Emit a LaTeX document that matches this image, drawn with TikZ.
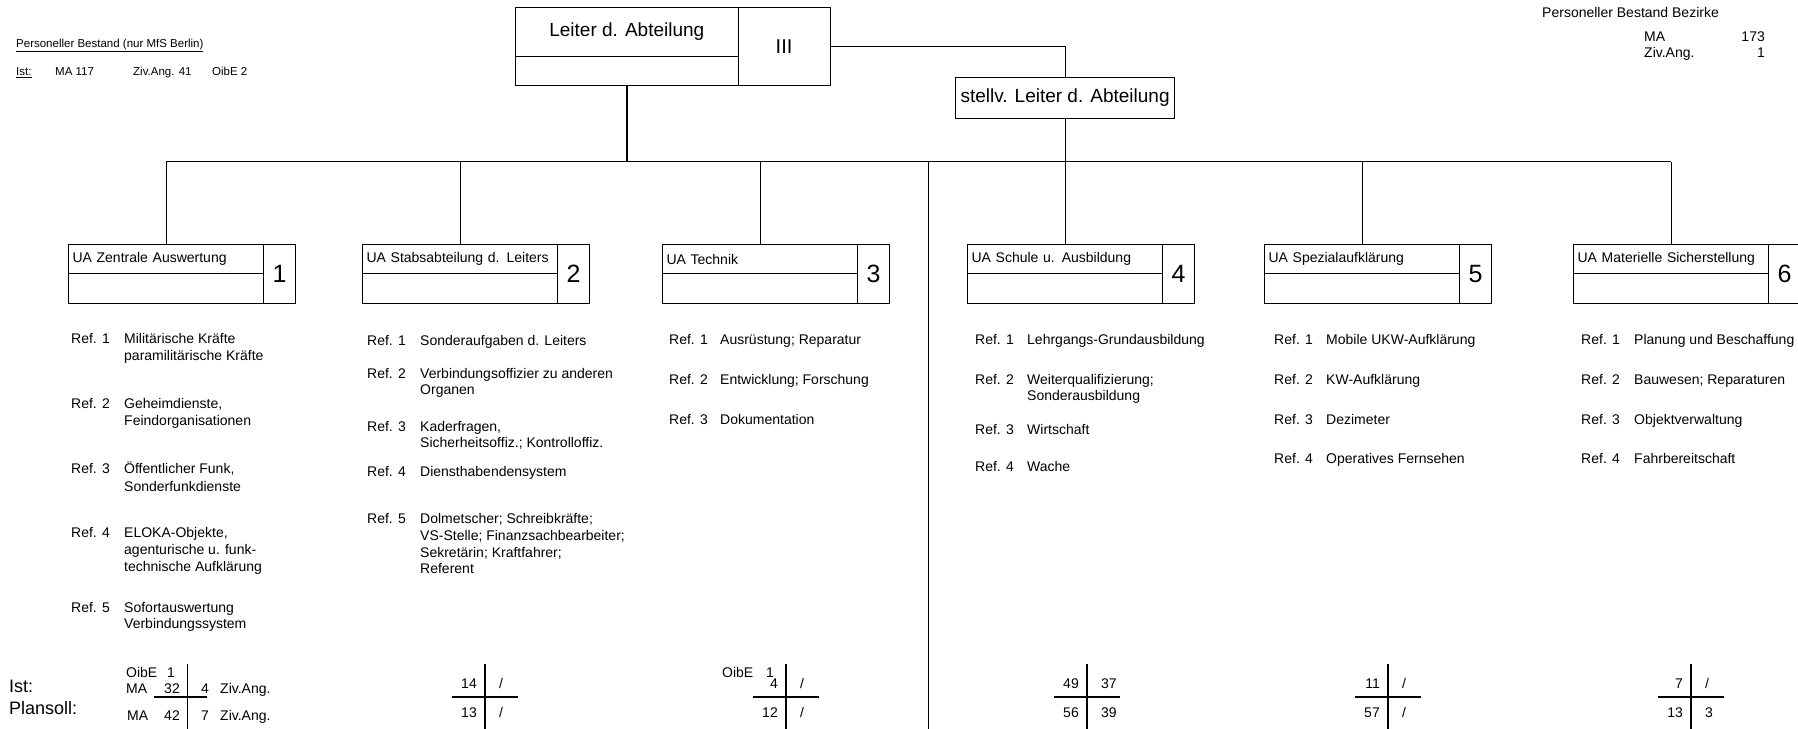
\documentclass[tikz,border=0pt]{standalone}
\usepackage{fontspec}
\setmainfont{Liberation Sans}
\usetikzlibrary{calc}
\newcommand\fsRef{\fontsize{14}{16}\selectfont}
\newcommand\fsHead{\fontsize{19}{22}\selectfont}
\newcommand\fsSmall{\fontsize{11.5}{13}\selectfont}
\begin{document}
\begin{tikzpicture}[x=1pt,y=-1pt,
  every node/.style={inner sep=0pt},
  ln/.style={line width=1.1pt},
  box/.style={draw, line width=1.1pt, anchor=north west, inner sep=0pt},
  uahead/.style={box, minimum width=195pt, minimum height=29pt, text width=187pt,
    inner xsep=4pt, align=left, font=\fsRef},
  ualow/.style={box, minimum width=195pt, minimum height=30pt},
  uanum/.style={box, minimum width=32pt, minimum height=59pt, font=\fontsize{25}{28}\selectfont},
  ref/.style={anchor=mid west, font=\fsRef, yshift=-3pt},
  lcell/.style={anchor=mid east, font=\fsRef, yshift=-2pt},
  rcell/.style={anchor=mid west, font=\fsRef, yshift=-2pt},
  small/.style={anchor=mid west, font=\fsSmall},
  big/.style={anchor=mid west, font=\fontsize{18}{20}\selectfont, yshift=-2pt},
]
\useasboundingbox (0,0) rectangle (1798,728);
\clip (0,0) rectangle (1798,728);

% head of the department
\node[box, minimum width=222.5pt, minimum height=49pt, font=\fsHead] (leiter) at (515,7) {Leiter d. Abteilung};
\node[box, minimum width=222.5pt, minimum height=29pt] (leiterlow) at (515,56) {};
\node[box, minimum width=92pt, minimum height=78pt, font=\fontsize{20}{22}\selectfont] (roman) at (737.5,7) {III};
\node[box, minimum width=219pt, minimum height=41pt, font=\fsHead] (stellv) at (955,77) {stellv. Leiter d. Abteilung};

% sub-departments
\foreach \i/\L/\t in {1/68/UA Zentrale Auswertung, 2/362/UA Stabsabteilung d. Leiters,
    3/662/UA Technik, 4/967/UA Schule u. Ausbildung, 5/1264/UA Spezialaufklärung,
    6/1573/UA Materielle Sicherstellung}{
  \node[uahead] (ua\i) at (\L,244) {\t};
  \node[ualow] (ua\i low) at (\L,273) {};
  \node[uanum] (num\i) at (\L+195,244) {\i};
}

% connectors
\coordinate (bus) at (0,161.5);
\draw[ln] (ua1.north |- bus) -- (ua6.north |- bus);
\foreach \i in {1,...,6} \draw[ln] (ua\i.north) -- (ua\i.north |- bus);
\draw[line width=2.4pt] (leiterlow.south) -- (leiterlow.south |- bus);
\draw[ln] (roman.east) -| (stellv.north);
\draw[ln] (stellv.south) -- (stellv.south |- bus);
\coordinate (divtop) at (928.5,161.5);
\coordinate (divbot) at (928.5,730);
\draw[line width=1pt] (divtop) -- (divbot);

% staff figures, top left
\node[small] (pbtitle) at (16,45) {\underline{Personeller Bestand (nur MfS Berlin)}};
\node[small] (pbist) at (16,73) {\underline{Ist:}};
\node[small] (pbma) at (55,73) {MA 117};
\node[small] (pbziv) at (133,73) {Ziv.Ang. 41};
\node[small] (pboibe) at (212,73) {OibE 2};

% staff figures, top right
\node[rcell] (bztitle) at (1542,13) {Personeller Bestand Bezirke};
\node[rcell] (bzma) at (1644,37) {MA};
\node[lcell] (bzmav) at (1765,37) {173};
\node[rcell] (bzziv) at (1644,53) {Ziv.Ang.};
\node[lcell] (bzzivv) at (1765,53) {1};

% column 1
\node[ref] (c1r1) at (71,338) {Ref. 1};
\node[ref] (c1t1a) at (124,338) {Militärische Kräfte};
\node[ref] (c1t1b) at (124,355) {paramilitärische Kräfte};
\node[ref] (c1r2) at (71,403) {Ref. 2};
\node[ref] (c1t2a) at (124,403) {Geheimdienste,};
\node[ref] (c1t2b) at (124,420) {Feindorganisationen};
\node[ref] (c1r3) at (71,468) {Ref. 3};
\node[ref] (c1t3a) at (124,468) {Öffentlicher Funk,};
\node[ref] (c1t3b) at (124,486) {Sonderfunkdienste};
\node[ref] (c1r4) at (71,532) {Ref. 4};
\node[ref] (c1t4a) at (124,532) {ELOKA-Objekte,};
\node[ref] (c1t4b) at (124,549) {agenturische u. funk-};
\node[ref] (c1t4c) at (124,566) {technische Aufklärung};
\node[ref] (c1r5) at (71,607) {Ref. 5};
\node[ref] (c1t5a) at (124,607) {Sofortauswertung};
\node[ref] (c1t5b) at (124,623) {Verbindungssystem};

% column 2
\node[ref] (c2r1) at (367,340) {Ref. 1};
\node[ref] (c2t1a) at (420,340) {Sonderaufgaben d. Leiters};
\node[ref] (c2r2) at (367,373) {Ref. 2};
\node[ref] (c2t2a) at (420,373) {Verbindungsoffizier zu anderen};
\node[ref] (c2t2b) at (420,389) {Organen};
\node[ref] (c2r3) at (367,426) {Ref. 3};
\node[ref] (c2t3a) at (420,426) {Kaderfragen,};
\node[ref] (c2t3b) at (420,442) {Sicherheitsoffiz.; Kontrolloffiz.};
\node[ref] (c2r4) at (367,471) {Ref. 4};
\node[ref] (c2t4a) at (420,471) {Diensthabendensystem};
\node[ref] (c2r5) at (367,518) {Ref. 5};
\node[ref] (c2t5a) at (420,518) {Dolmetscher; Schreibkräfte;};
\node[ref] (c2t5b) at (420,535) {VS-Stelle; Finanzsachbearbeiter;};
\node[ref] (c2t5c) at (420,552) {Sekretärin; Kraftfahrer;};
\node[ref] (c2t5d) at (420,568) {Referent};

% column 3
\node[ref] (c3r1) at (669,339) {Ref. 1};
\node[ref] (c3t1a) at (720,339) {Ausrüstung; Reparatur};
\node[ref] (c3r2) at (669,379) {Ref. 2};
\node[ref] (c3t2a) at (720,379) {Entwicklung; Forschung};
\node[ref] (c3r3) at (669,419) {Ref. 3};
\node[ref] (c3t3a) at (720,419) {Dokumentation};

% column 4
\node[ref] (c4r1) at (975,339) {Ref. 1};
\node[ref] (c4t1a) at (1027,339) {Lehrgangs-Grundausbildung};
\node[ref] (c4r2) at (975,379) {Ref. 2};
\node[ref] (c4t2a) at (1027,379) {Weiterqualifizierung;};
\node[ref] (c4t2b) at (1027,395) {Sonderausbildung};
\node[ref] (c4r3) at (975,429) {Ref. 3};
\node[ref] (c4t3a) at (1027,429) {Wirtschaft};
\node[ref] (c4r4) at (975,466) {Ref. 4};
\node[ref] (c4t4a) at (1027,466) {Wache};

% column 5
\node[ref] (c5r1) at (1274,339) {Ref. 1};
\node[ref] (c5t1a) at (1326,339) {Mobile UKW-Aufklärung};
\node[ref] (c5r2) at (1274,379) {Ref. 2};
\node[ref] (c5t2a) at (1326,379) {KW-Aufklärung};
\node[ref] (c5r3) at (1274,419) {Ref. 3};
\node[ref] (c5t3a) at (1326,419) {Dezimeter};
\node[ref] (c5r4) at (1274,458) {Ref. 4};
\node[ref] (c5t4a) at (1326,458) {Operatives Fernsehen};

% column 6
\node[ref] (c6r1) at (1581,339) {Ref. 1};
\node[ref] (c6t1a) at (1634,339) {Planung und Beschaffung};
\node[ref] (c6r2) at (1581,379) {Ref. 2};
\node[ref] (c6t2a) at (1634,379) {Bauwesen; Reparaturen};
\node[ref] (c6r3) at (1581,419) {Ref. 3};
\node[ref] (c6t3a) at (1634,419) {Objektverwaltung};
\node[ref] (c6r4) at (1581,458) {Ref. 4};
\node[ref] (c6t4a) at (1634,458) {Fahrbereitschaft};

% strength tables
\node[big] (istlbl) at (9,688) {Ist:};
\node[big] (planlbl) at (9,710) {Plansoll:};

\foreach \k/\v in {1/187.5, 2/485, 3/786, 4/1087, 5/1388, 6/1691}{
  \coordinate (t\k top) at (\v,664);
  \coordinate (t\k bot) at (\v,730);
}
\coordinate (t1l) at (154,697);
\coordinate (t1r) at (207,697);
\foreach \k in {2,...,6}{
  \coordinate (t\k l) at ($(t\k top)+(-33,33)$);
  \coordinate (t\k r) at ($(t\k top)+(33,33)$);
}
\foreach \k in {1,...,6}{
  \draw[ln] (t\k top) -- (t\k bot);
  \draw[ln] (t\k l) -- (t\k r);
}

% table 1
\node[rcell] (t1oibe) at (126,673) {OibE};
\node[lcell] (t1oibev) at (175,673) {1};
\node[rcell] (t1ma1) at (126,689) {MA};
\node[lcell] (t1a) at (180,689) {32};
\node[rcell] (t1b) at (201,689) {4};
\node[rcell] (t1ziv1) at (220,689) {Ziv.Ang.};
\node[rcell] (t1ma2) at (127,716) {MA};
\node[lcell] (t1c) at (180,716) {42};
\node[rcell] (t1d) at (201,716) {7};
\node[rcell] (t1ziv2) at (220,716) {Ziv.Ang.};

% tables 2 to 6
\node[rcell] (t3oibe) at (722,673) {OibE};
\node[lcell] (t3oibev) at (774,673) {1};
\foreach \k/\v/\a/\b/\c/\d in {2/485/14/\slash/13/\slash, 3/786/4/\slash/12/\slash,
    4/1087/49/37/56/39, 5/1388/11/\slash/57/\slash, 6/1691/7/\slash/13/3}{
  \node[lcell] (t\k a) at (\v-8,684) {\a};
  \node[rcell] (t\k b) at (\v+14,684) {\b};
  \node[lcell] (t\k c) at (\v-8,713) {\c};
  \node[rcell] (t\k d) at (\v+14,713) {\d};
}
\end{tikzpicture}
\end{document}
